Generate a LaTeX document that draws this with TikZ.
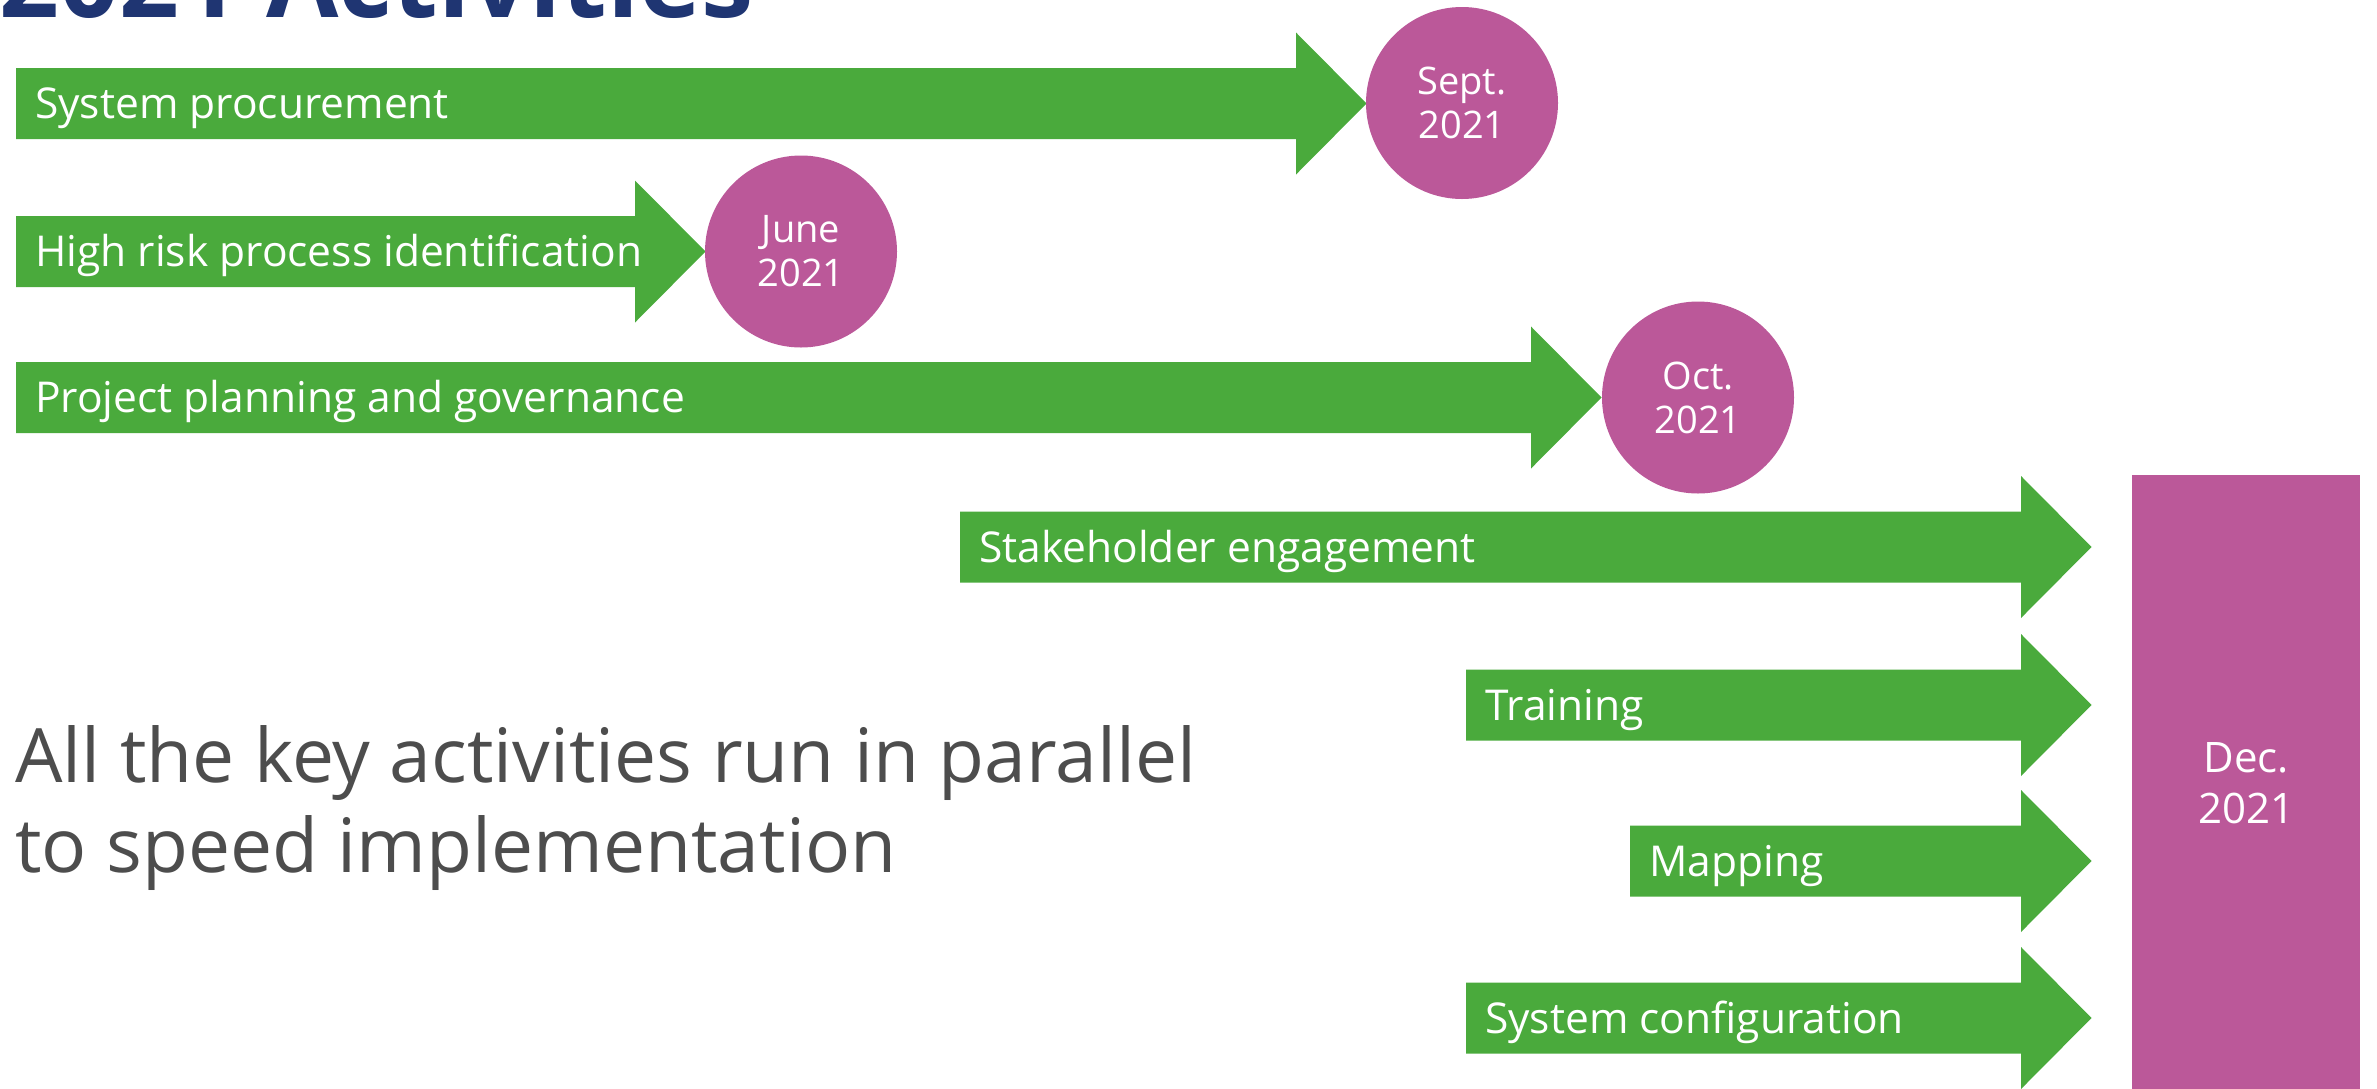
\documentclass[tikz,border=0pt]{standalone}
\usepackage{fontspec}
\setmainfont{Open Sans}
\definecolor{actgreen}{HTML}{4AAA3C}
\definecolor{actmag}{HTML}{BB5899}
\definecolor{actnavy}{HTML}{1F3572}
\definecolor{actgrey}{HTML}{4D4D4D}
\newcommand\ActArrow[3]{%
  \fill[actgreen] (#1,#3-35.5) -- (#2,#3-35.5) -- (#2,#3-71) -- (#2+70.5,#3)
    -- (#2,#3+71) -- (#2,#3+35.5) -- (#1,#3+35.5) -- cycle;}
\begin{document}
\begin{tikzpicture}[x=1pt,y=-1pt,
  lbl/.style={anchor=base west,inner sep=0pt,text=white,
    font=\fontsize{42.5}{44}\selectfont},
  milestone/.style={circle,fill=actmag,minimum size=192pt,inner sep=0pt,
    text=white,align=center,font=\fontsize{38}{44}\selectfont},
  finalbox/.style={rectangle,fill=actmag,minimum width=228pt,minimum height=615pt,
    inner sep=0pt,text=white,align=center,font=\fontsize{42}{51}\selectfont}]
\useasboundingbox (0,0) rectangle (2377,1088);
% title
\node[anchor=base west,inner sep=0pt,text=actnavy,
  font=\fontsize{105}{110}\selectfont\bfseries] (title) at (-1,17) {2021 Activities};
% arrows
\ActArrow{16}{1296}{103.5}
\ActArrow{16}{635}{251.5}
\ActArrow{16}{1531}{397.5}
\ActArrow{960}{2021}{547}
\ActArrow{1466}{2021}{705}
\ActArrow{1630}{2021}{861}
\ActArrow{1466}{2021}{1018}
% labels
\node[lbl] (l1) at (35,118.5) {System procurement};
\node[lbl] (l2) at (35,266.5) {High risk process identification};
\node[lbl] (l3) at (35,412.5) {Project planning and governance};
\node[lbl] (l4) at (979,562) {Stakeholder engagement};
\node[lbl] (l5) at (1485,720) {Training};
\node[lbl] (l6) at (1649,876) {Mapping};
\node[lbl] (l7) at (1485,1033) {System configuration};
% milestones
\node[milestone] (sept) at (1462,103) {Sept.\\2021};
\node[milestone] (june) at (801,251.5) {June\\2021};
\node[milestone] (oct) at (1698,397.5) {Oct.\\2021};
\node[finalbox,anchor=north west] (dec) at (2132,475) {Dec.\\2021};
% statement
\node[anchor=base west,inner sep=0pt,text=actgrey,align=left,
  font=\fontsize{75}{90}\selectfont] (note) at (15,872)
  {All the key activities run in parallel\\to speed implementation};
\end{tikzpicture}
\end{document}
